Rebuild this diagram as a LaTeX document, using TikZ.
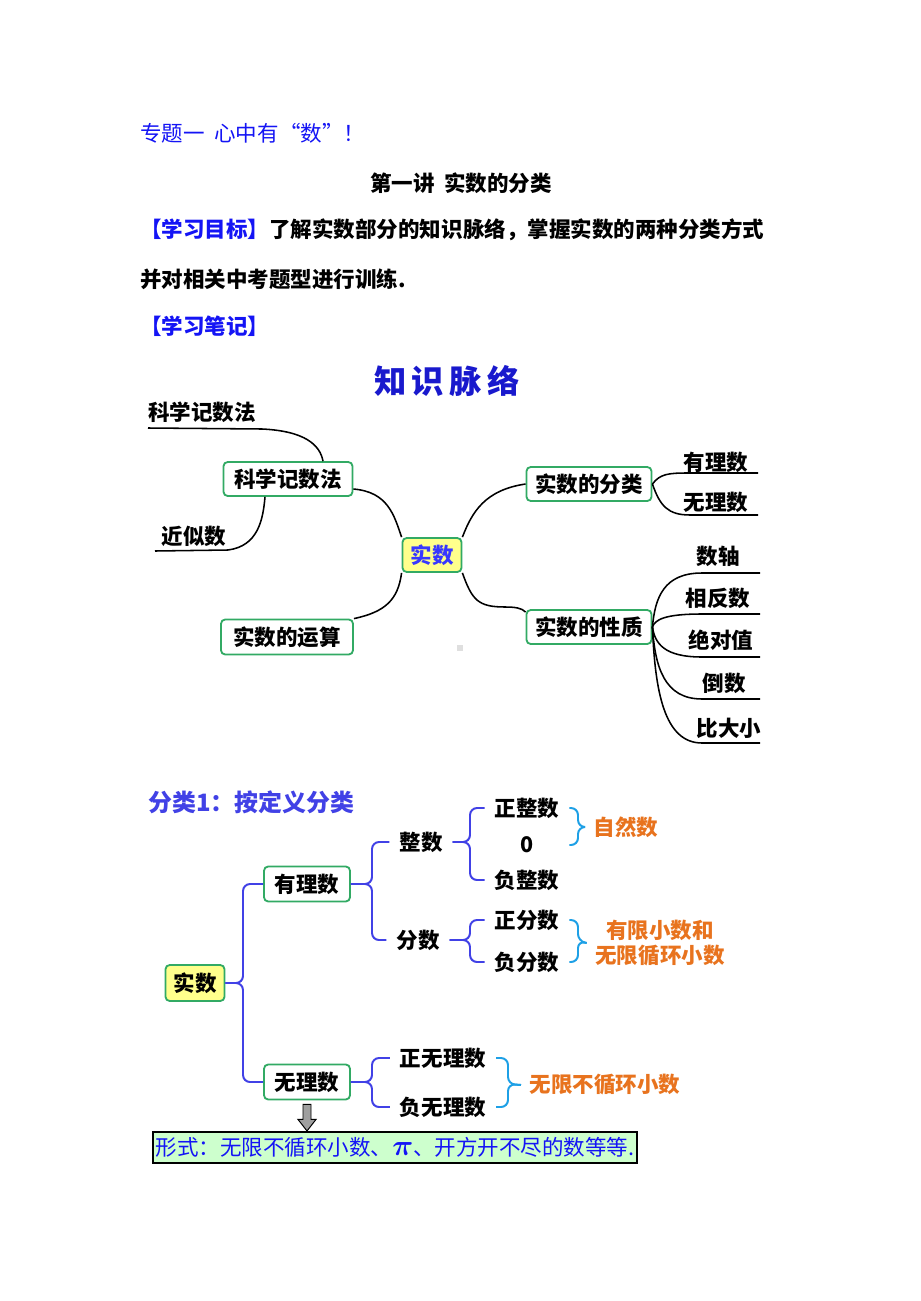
\documentclass[tikz,border=0pt]{standalone}
\usepackage{fontspec}
\setmainfont{Noto Sans CJK SC}
\usepackage{tikz}
\usetikzlibrary{positioning, calc}
\usepackage{xcolor}

\definecolor{headblue}{RGB}{20,20,245}
\definecolor{mapblue}{RGB}{25,25,205}
\definecolor{coreblue}{RGB}{55,55,255}
\definecolor{boxgreen}{RGB}{50,170,100}
\definecolor{coreyellow}{RGB}{255,255,140}
\definecolor{braceblue}{RGB}{65,65,230}
\definecolor{bracecyan}{RGB}{30,160,230}
\definecolor{noteorange}{RGB}{232,115,30}
\definecolor{formgreen}{RGB}{205,255,205}

\newcommand{\bodysize}{\fontsize{15.3pt}{18pt}\selectfont}

\begin{document}
\begin{tikzpicture}[x=0.025cm, y=-0.025cm,
	plain/.style={font=\bodysize, inner sep=0pt},
	leaf/.style={font=\bodysize\bfseries, inner sep=1pt},
	tleaf/.style={font=\bodysize\bfseries, inner xsep=7pt, inner ysep=1pt},
	mbox/.style={draw=boxgreen, line width=1.3pt, rounded corners=3pt, fill=white,
		font=\bodysize\bfseries, minimum height=0.85cm, inner xsep=2pt},
	branch/.style={line width=1.1pt, black},
	lbrace/.style={draw=braceblue, line width=1.4pt, rounded corners=5pt},
	rbrace/.style={draw=bracecyan, line width=1.4pt, rounded corners=5pt},
	note/.style={font=\bodysize\bfseries, text=noteorange, inner xsep=6pt, inner ysep=1pt}]
	\fill[white] (0,0) rectangle (920,1301);
	\useasboundingbox (0,0) rectangle (920,1301);

	% heading lines
	\node[plain, anchor=west, text=headblue] (topic) at (140,133) {专题一\ \ 心中有“数”！};
	\node[plain, font=\bodysize\bfseries] (lecture) at (461,183) {第一讲\ \ 实数的分类};
	\node[plain, anchor=west, font=\bodysize\bfseries] (goal) at (140,230)
		{\textcolor{headblue}{【学习目标】}了解实数部分的知识脉络，掌握实数的两种分类方式};
	\node[plain, anchor=west, font=\bodysize\bfseries] (goal2) at (140,279) {并对相关中考题型进行训练.};
	\node[plain, anchor=west, font=\bodysize\bfseries, text=headblue] (notes) at (140,326) {【学习笔记】};

	% knowledge map
	\node[plain, font=\fontsize{23pt}{26pt}\selectfont\bfseries, text=mapblue] (maptitle) at (447,381) {知\,识\,脉\,络};
	\node[mbox, fill=coreyellow, minimum width=1.475cm, text=coreblue] (core1) at (432,555) {实数};
	\node[mbox, minimum width=3.225cm] (kxbox) at (288,479) {科学记数法};
	\node[mbox, minimum width=3.3cm, minimum height=0.875cm] (ysbox) at (287,637) {实数的运算};
	\node[mbox, minimum width=3.125cm] (flbox) at (589,484) {实数的分类};
	\node[mbox, minimum width=3.125cm] (xzbox) at (589,627) {实数的性质};

	\node[leaf] (kxtxt) at (202,412) {科学记数法};
	\node[leaf] (jstxt) at (194,536) {近似数};
	\node[leaf] (yltxt) at (716,462) {有理数};
	\node[leaf] (wltxt) at (716,502) {无理数};
	\node[leaf] (sz) at (718,556) {数轴};
	\node[leaf] (xf) at (718,598) {相反数};
	\node[leaf] (jd) at (721,640) {绝对值};
	\node[leaf] (ds) at (724,683) {倒数};
	\node[leaf] (bd) at (729,728) {比大小};

	\coordinate (kxul) at (148,428);
	\coordinate (jsul) at (155,551);
	\coordinate (ylul) at (758,473);
	\coordinate (wlul) at (758,515);

	\draw[branch] (kxul) -- (262,429) .. controls (305,431) and (320,445) .. ($(kxbox.north)+(35,0)$);
	\draw[branch] (jsul) -- (228,550) .. controls (258,546) and (263,520) .. ($(kxbox.south)+(-23,0)$);
	\draw[branch] ($(kxbox.east)+(0,10)$) .. controls (388,492) and (394,515) .. (core1.north west);
	\draw[branch] (core1.north east) .. controls (472,512) and (485,490) .. (flbox.west);
	\draw[branch] (core1.south east) .. controls (472,600) and (478,607) .. (505,607) .. controls (515,607) and (522,608) .. ($(xzbox.north west)+(0,3)$);
	\draw[branch] (core1.south west) .. controls (398,600) and (385,612) .. (ysbox.north east);
	\draw[branch] (flbox.east) .. controls (660,474) and (668,473) .. (688,473) -- (ylul);
	\draw[branch] (flbox.east) .. controls (660,506) and (668,515) .. (690,515) -- (wlul);
	\foreach \yy/\nm in {573/sz, 614/xf, 657/jd, 699/ds, 743/bd}{
		\coordinate (\nm ul) at (760,\yy);
		\draw[branch] (xzbox.east) .. controls (655,{627+0.55*(\yy-627)}) and (664,\yy) .. (702,\yy) -- (\nm ul);
	}
	\fill[gray!25] (457,645) rectangle (463,651);

	% classification by definition
	\node[plain, anchor=west, font=\fontsize{17pt}{20pt}\selectfont\bfseries, text=braceblue] (cltitle) at (148,802) {分类1：按定义分类};
	\node[mbox, fill=coreyellow, minimum width=1.475cm, minimum height=0.9cm] (core2) at (195,983) {实数};
	\node[mbox, minimum width=2.15cm, minimum height=0.875cm] (ylbox) at (307,884) {有理数};
	\node[mbox, minimum width=2.15cm, minimum height=0.875cm] (wlbox) at (307,1082) {无理数};
	\node[tleaf] (zs) at (421,842) {整数};
	\node[tleaf] (fs) at (418,940) {分数};
	\node[tleaf] (zzs) at (527,808) {正整数};
	\node[tleaf] (zero) at (527,845) {0};
	\node[tleaf] (fzs) at (527,880) {负整数};
	\node[tleaf] (zfs) at (527,920) {正分数};
	\node[tleaf] (ffs) at (527,962) {负分数};
	\node[tleaf] (zws) at (443,1058) {正无理数};
	\node[tleaf] (fws) at (443,1107) {负无理数};
	\node[note] (zrs) at (626,827) {自然数};
	\node[note, align=center] (yxs) at (660,943) {有限小数和\\无限循环小数};
	\node[note] (wxs) at (605,1085) {无限不循环小数};

	\draw[lbrace] (ylbox.west) -| (243,983) -- (core2.east);
	\draw[lbrace] (wlbox.west) -| (243,983) -- (core2.east);
	\draw[lbrace] (zs.west) -| (372,884) -- (ylbox.east);
	\draw[lbrace] (fs.west) -| (372,884) -- (ylbox.east);
	\draw[lbrace] (zzs.west) -| (470,842) -- (zs.east);
	\draw[lbrace] (fzs.west) -| (470,842) -- (zs.east);
	\draw[lbrace] (zfs.west) -| (470,940) -- (fs.east);
	\draw[lbrace] (ffs.west) -| (470,940) -- (fs.east);
	\draw[lbrace] (zws.west) -| (372,1082) -- (wlbox.east);
	\draw[lbrace] (fws.west) -| (372,1082) -- (wlbox.east);

	\draw[rbrace] (zzs.east) -| (578,827) -- (zrs.west);
	\draw[rbrace] (zzs.east |- zero.east) -| (578,827) -- (zrs.west);
	\draw[rbrace] (zfs.east) -| (578,941) -- (yxs.west);
	\draw[rbrace] (ffs.east) -| (578,941) -- (yxs.west);
	\draw[rbrace] (zws.east) -| (508,1084) -- (wxs.west);
	\draw[rbrace] (fws.east) -| (508,1084) -- (wxs.west);

	\node[draw=black, line width=1.5pt, fill=formgreen, minimum width=12.1cm, minimum height=0.775cm,
		inner xsep=2pt, font=\bodysize, text=headblue] (form) at (395,1147.5)
		{形式：无限不循环小数、{\fontsize{20pt}{20pt}\selectfont\boldmath$\pi$}、开方开不尽的数等等.};
	\draw[fill=gray!75, line width=0.7pt] ($(wlbox.south)+(-4,4)$) -- ($(wlbox.south)+(4,4)$)
		-- ($(wlbox.south)+(4,19)$) -- ($(wlbox.south)+(9,19)$) -- (wlbox.south |- form.north)
		-- ($(wlbox.south)+(-9,19)$) -- ($(wlbox.south)+(-4,19)$) -- cycle;
\end{tikzpicture}
\end{document}
